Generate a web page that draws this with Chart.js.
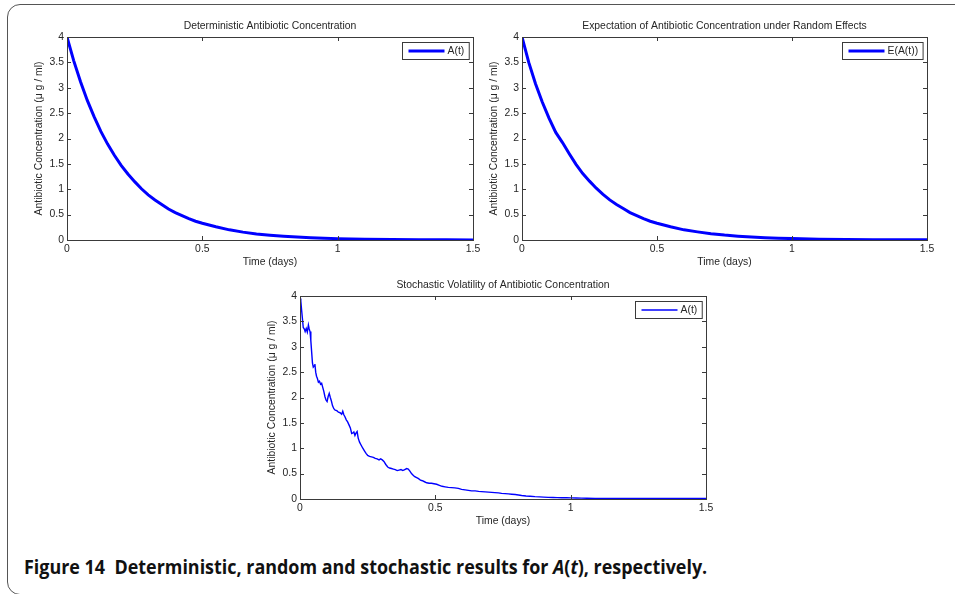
<!DOCTYPE html>
<html>
<head>
<meta charset="utf-8">
<script src="https://cdn.jsdelivr.net/npm/chart.js@4.4.1/dist/chart.umd.min.js"></script>
<style>
  html, body { margin: 0; padding: 0; background: #fff; }
  #page { position: relative; width: 955px; height: 594px; overflow: hidden; }
  #frame {
    position: absolute; left: 7px; top: 4px; width: 1000px; height: 591px;
    border: 1.5px solid #555; border-radius: 13px; box-sizing: border-box;
  }
  .panel { position: absolute; }
  #caption {
    position: absolute; left: 24px; top: 557px; white-space: nowrap;
    font-family: "Liberation Sans Narrow", "Open Sans", sans-serif;
    font-weight: bold; font-size: 20px; line-height: 20px; color: #111;
    transform-origin: left top;
  }
</style>
</head>
<body>
<div id="page">
  <div id="frame"></div>
  <canvas id="chartDet" class="panel" width="460" height="265" style="left:20px;top:10px"></canvas>
  <canvas id="chartExp" class="panel" width="460" height="265" style="left:475px;top:10px"></canvas>
  <canvas id="chartSto" class="panel" width="460" height="265" style="left:255px;top:268px"></canvas>
  <div id="caption">Figure 14&nbsp; Deterministic, random and stochastic results for <i>A</i>(<i>t</i>), respectively.</div>
</div>

<script>
// ===================================
// DATA
// ===================================
const xTicks = [0, 0.5, 1, 1.5];
const yTicks = [0, 0.5, 1, 1.5, 2, 2.5, 3, 3.5, 4];

// deterministic A(t) and expectation E(A(t)) share the same time grid
const smoothTime = [0, 0.025, 0.05, 0.075, 0.1, 0.125, 0.15, 0.175, 0.2, 0.225,
  0.25, 0.275, 0.3, 0.325, 0.35, 0.375, 0.4, 0.425, 0.45, 0.475,
  0.5, 0.55, 0.6, 0.65, 0.7, 0.75, 0.8, 0.85, 0.9, 0.95,
  1.0, 1.1, 1.2, 1.3, 1.4, 1.5];
const detValues = [4.0, 3.53, 3.12, 2.75, 2.43, 2.14, 1.89, 1.67, 1.47, 1.3,
  1.15, 1.01, 0.89, 0.79, 0.7, 0.61, 0.54, 0.48, 0.42, 0.37,
  0.33, 0.26, 0.2, 0.155, 0.12, 0.094, 0.073, 0.057, 0.044, 0.035,
  0.027, 0.016, 0.01, 0.006, 0.004, 0.002];
const expValues = [4.0, 3.5, 3.08, 2.72, 2.4, 2.12, 1.92, 1.7, 1.49, 1.31,
  1.16, 1.02, 0.9, 0.79, 0.7, 0.62, 0.54, 0.48, 0.42, 0.37,
  0.33, 0.26, 0.2, 0.16, 0.125, 0.097, 0.075, 0.058, 0.045, 0.035,
  0.028, 0.017, 0.011, 0.007, 0.004, 0.003];

// one stochastic path
const stochTime = [0, 0.003, 0.006, 0.009, 0.012, 0.016, 0.019, 0.023, 0.027, 0.031,
  0.034, 0.037, 0.040, 0.043, 0.046, 0.049, 0.052, 0.055, 0.058, 0.061,
  0.064, 0.068, 0.072, 0.076, 0.080, 0.084, 0.088, 0.092, 0.096, 0.100,
  0.104, 0.108, 0.112, 0.116, 0.120, 0.125, 0.130, 0.136, 0.142, 0.148,
  0.154, 0.158, 0.162, 0.166, 0.171, 0.176, 0.181, 0.186, 0.191, 0.195,
  0.199, 0.203, 0.207, 0.211, 0.215, 0.220, 0.226, 0.232, 0.238, 0.244,
  0.250, 0.257, 0.264, 0.271, 0.278, 0.285, 0.292, 0.298, 0.304, 0.310,
  0.317, 0.324, 0.331, 0.338, 0.345, 0.352, 0.359, 0.366, 0.373, 0.380,
  0.387, 0.394, 0.400, 0.406, 0.412, 0.418, 0.424, 0.431, 0.438, 0.445,
  0.452, 0.460, 0.468, 0.477, 0.486, 0.495, 0.505, 0.515, 0.525, 0.536,
  0.548, 0.560, 0.572, 0.585, 0.597, 0.610, 0.622, 0.634, 0.647, 0.660,
  0.671, 0.684, 0.696, 0.708, 0.720, 0.733, 0.745, 0.758, 0.770, 0.782,
  0.795, 0.807, 0.819, 0.835, 0.850, 0.868, 0.885, 0.900, 0.917, 0.935,
  0.950, 0.967, 0.985, 1.000, 1.020, 1.040, 1.060, 1.090, 1.120, 1.160,
  1.200, 1.250, 1.300, 1.350, 1.400, 1.450, 1.500];
const stochValues = [3.95, 3.9, 3.72, 3.55, 3.38, 3.35, 3.3, 3.36, 3.29, 3.43,
  3.35, 3.3, 3.12, 2.9, 2.68, 2.6, 2.62, 2.66, 2.5, 2.42,
  2.38, 2.3, 2.32, 2.26, 2.28, 2.2, 2.12, 2.02, 1.95, 1.92,
  2.02, 2.08, 2.0, 1.93, 1.84, 1.78, 1.75, 1.74, 1.71, 1.7,
  1.67, 1.73, 1.66, 1.62, 1.56, 1.52, 1.46, 1.4, 1.29, 1.3,
  1.32, 1.25, 1.3, 1.33, 1.2, 1.12, 1.06, 1.0, 0.95, 0.9,
  0.86, 0.84, 0.83, 0.82, 0.8, 0.79, 0.77, 0.79, 0.77, 0.74,
  0.68, 0.63, 0.61, 0.6, 0.59, 0.58, 0.56, 0.57, 0.58, 0.56,
  0.58, 0.6, 0.59, 0.55, 0.5, 0.47, 0.44, 0.42, 0.4, 0.37,
  0.36, 0.34, 0.32, 0.31, 0.31, 0.3, 0.29, 0.27, 0.25, 0.24,
  0.23, 0.225, 0.22, 0.21, 0.19, 0.18, 0.17, 0.16, 0.16, 0.15,
  0.145, 0.14, 0.135, 0.13, 0.125, 0.12, 0.11, 0.105, 0.1, 0.095,
  0.088, 0.08, 0.07, 0.06, 0.055, 0.046, 0.042, 0.037, 0.033, 0.03,
  0.028, 0.026, 0.025, 0.022, 0.02, 0.018, 0.016, 0.013, 0.012, 0.011,
  0.01, 0.01, 0.01, 0.01, 0.01, 0.01, 0.01];

const xTitle = 'Time (days)';
const yTitle = 'Antibiotic Concentration (\u03bc g / ml)';

// ===================================
// MATLAB-LIKE AXES PLUGIN
// ===================================
const FAMILY = '"Liberation Sans", Arial, sans-serif';
const FONT = '10.4px ' + FAMILY;
const INK = '#262626';

const matlabAxes = {
  id: 'matlabAxes',
  afterDraw(chart, args, opts) {
    const { ctx, chartArea: a, scales: { x, y } } = chart;
    ctx.save();
    ctx.strokeStyle = '#3a3a3a';
    ctx.lineWidth = 1;
    ctx.strokeRect(Math.round(a.left) + 0.5, Math.round(a.top) + 0.5,
      Math.round(a.right - a.left), Math.round(a.bottom - a.top));

    // inward ticks on all four sides
    const tl = 4;
    ctx.beginPath();
    xTicks.forEach(v => {
      const px = Math.round(x.getPixelForValue(v)) + 0.5;
      ctx.moveTo(px, a.bottom); ctx.lineTo(px, a.bottom - tl);
      ctx.moveTo(px, a.top); ctx.lineTo(px, a.top + tl);
    });
    yTicks.forEach(v => {
      const py = Math.round(y.getPixelForValue(v)) + 0.5;
      ctx.moveTo(a.left, py); ctx.lineTo(a.left + tl, py);
      ctx.moveTo(a.right, py); ctx.lineTo(a.right - tl, py);
    });
    ctx.stroke();

    // titles
    ctx.fillStyle = INK;
    ctx.font = FONT;
    ctx.textAlign = 'center';
    ctx.textBaseline = 'middle';
    ctx.fillText(opts.title, (a.left + a.right) / 2, a.top - 11);
    ctx.fillText(xTitle, (a.left + a.right) / 2, a.bottom + 22);
    ctx.save();
    ctx.translate(a.left - 28, (a.top + a.bottom) / 2);
    ctx.rotate(-Math.PI / 2);
    ctx.fillText(yTitle, 0, 0);
    ctx.restore();

    // legend box in the upper right corner
    const ds = chart.data.datasets[0];
    const tw = ctx.measureText(ds.label).width;
    const bw = 6 + 36 + 3 + tw + 5, bh = 17;
    const bx = Math.round(a.right - 4 - bw) + 0.5, by = Math.round(a.top + 5) + 0.5;
    ctx.fillStyle = '#fff';
    ctx.fillRect(bx, by, bw, bh);
    ctx.strokeStyle = '#3a3a3a';
    ctx.strokeRect(bx, by, bw, bh);
    ctx.strokeStyle = ds.borderColor;
    ctx.lineWidth = ds.borderWidth;
    ctx.beginPath();
    ctx.moveTo(bx + 6, by + bh / 2);
    ctx.lineTo(bx + 42, by + bh / 2);
    ctx.stroke();
    ctx.fillStyle = INK;
    ctx.textAlign = 'left';
    ctx.fillText(ds.label, bx + 45, by + bh / 2 + 0.5);
    ctx.restore();
  }
};

function makeChart(id, title, label, xs, ys, lineWidth, box) {
  const pts = xs.map((t, i) => ({ x: t, y: ys[i] }));
  return new Chart(document.getElementById(id), {
    type: 'line',
    data: {
      datasets: [{
        label: label,
        data: pts,
        borderColor: '#0000ff',
        borderWidth: lineWidth,
        pointRadius: 0,
        tension: 0,
        fill: false
      }]
    },
    options: {
      responsive: false,
      animation: false,
      devicePixelRatio: 1,
      layout: { padding: { top: box.top, right: box.right, left: 0, bottom: 0 } },
      plugins: {
        legend: { display: false },
        tooltip: { enabled: false },
        matlabAxes: { title: title }
      },
      scales: {
        x: {
          type: 'linear', min: 0, max: 1.5,
          grid: { display: false, drawTicks: false }, border: { display: false },
          ticks: {
            stepSize: 0.5, padding: 3, color: INK, maxRotation: 0,
            font: { family: FAMILY, size: 10.4 },
            callback: v => String(v)
          },
          afterFit(s) { s.height = box.bottom; s.paddingLeft = 0; s.paddingRight = 0; }
        },
        y: {
          type: 'linear', min: 0, max: 4,
          grid: { display: false, drawTicks: false }, border: { display: false },
          ticks: {
            stepSize: 0.5, padding: 3, color: INK,
            font: { family: FAMILY, size: 10.4 },
            callback: v => String(v)
          },
          afterFit(s) { s.width = box.left; s.paddingTop = 0; s.paddingBottom = 0; }
        }
      }
    },
    plugins: [matlabAxes]
  });
}

makeChart('chartDet', 'Deterministic Antibiotic Concentration', 'A(t)',
  smoothTime, detValues, 3, { left: 47, top: 27, right: 7, bottom: 35 });
makeChart('chartExp', 'Expectation of Antibiotic Concentration under Random Effects', 'E(A(t))',
  smoothTime, expValues, 3, { left: 47, top: 27, right: 8, bottom: 35 });
makeChart('chartSto', 'Stochastic Volatility of Antibiotic Concentration', 'A(t)',
  stochTime, stochValues, 1.4, { left: 45, top: 28, right: 9, bottom: 34 });

// stretch the caption to the printed width
const cap = document.getElementById('caption');
cap.style.transform = 'scaleX(' + (683 / cap.offsetWidth) + ')';
</script>
</body>
</html>
